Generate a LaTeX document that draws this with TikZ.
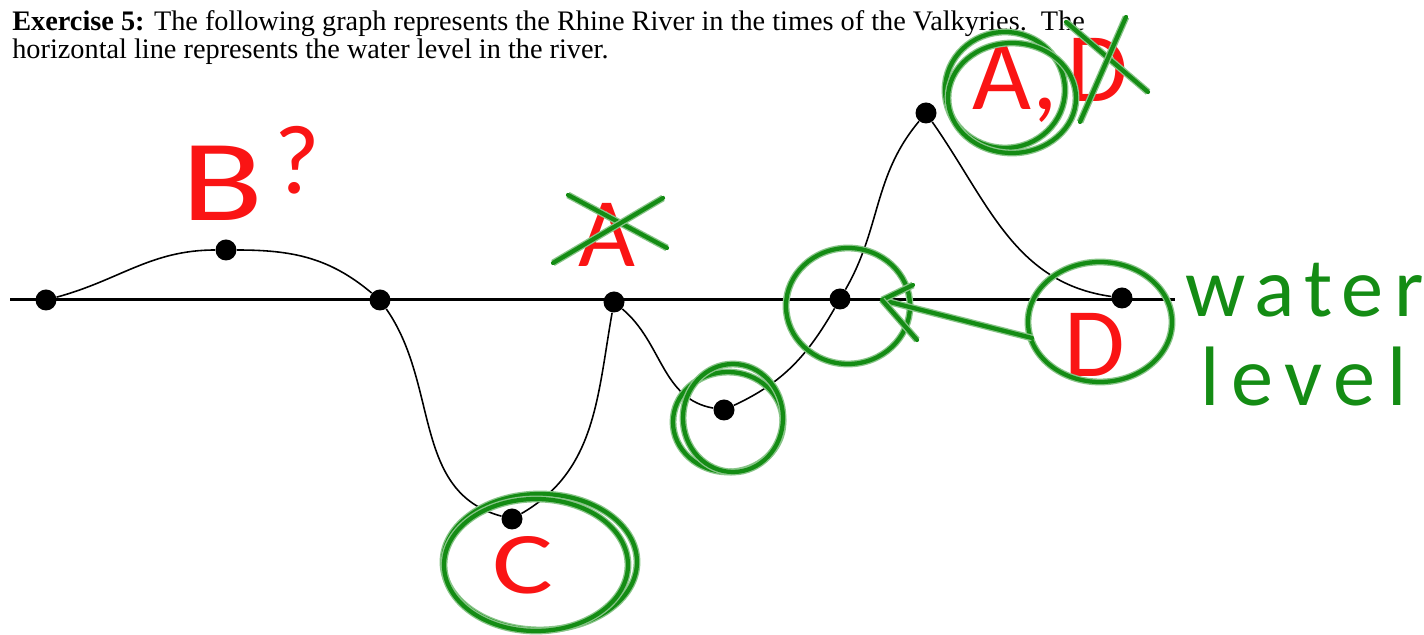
\documentclass[tikz,border=0pt]{standalone}
\usepackage{fontspec}
\setmainfont{Liberation Serif}
\newfontfamily\handfont{Carlito}
\usetikzlibrary{arrows.meta,positioning}
\definecolor{inkgreen}{RGB}{20,140,20}
\definecolor{inkred}{RGB}{250,20,20}
\newcommand{\hand}[1]{\fontsize{#1}{#1}\selectfont\handfont}

\begin{document}
\begin{tikzpicture}[
    x=0.02cm, y=0.02cm,
    dot/.style={circle, fill=black, inner sep=0pt, minimum width=0.4cm, minimum height=0.42cm},
    curve/.style={line width=0.9pt},
    level/.style={line width=1.7pt},
    printed/.style={anchor=base west, inner sep=0pt, font=\fontsize{16.1}{17}\selectfont},
    greenpen/.style={draw=inkgreen, line width=2.4pt, line cap=round, line join=round,
      preaction={draw=inkgreen!50, line width=3.9pt}},
    redletter/.style={text=inkred, inner sep=0pt}
  ]
    \useasboundingbox (0,0) rectangle (1424,635);
    \node[printed] (line1) at (12,604) {\textbf{Exercise 5:} The following graph represents the Rhine River in the times of the Valkyries.\ \ The};
    \node[printed] (line2) at (12,576) {horizontal line represents the water level in the river.};

    \coordinate (lvl-w) at (10,335);
    \coordinate (lvl-e) at (1175,335);
    \draw[level] (lvl-w) -- (lvl-e);

    \node[dot] (p1) at (46,335) {};
    \node[dot] (p2) at (226,385) {};
    \node[dot] (p3) at (380,335) {};
    \node[dot] (p4) at (512,116) {};
    \node[dot] (p5) at (614,333) {};
    \node[dot] (p6) at (724,225) {};
    \node[dot] (p7) at (840,336) {};
    \node[dot] (p8) at (926,522) {};
    \node[dot] (p9) at (1122,337) {};
    \draw[curve] (p1) to[out=15, in=180] (p2) to[out=0, in=140] (p3)
      to[out=-55, in=165] (p4) to[out=30, in=-100] (p5)
      to[out=-40, in=170] (p6) to[out=25, in=-120] (p7)
      to[out=60, in=-130] (p8) to[out=-55, in=172] (p9);

    \node[redletter, font=\hand{66}, xscale=1.3] (b) at (222,452) {B};
    \node[redletter, font=\hand{56}] (bq) at (297,475) {?};

    \node[redletter, font=\hand{56}] (a-old) at (607,400) {A};
    \draw[greenpen] (568,440) -- (667,387);
    \draw[greenpen] (553,372) -- (663,437);

    \node[redletter, font=\hand{58}] (a-new) at (1015,552) {A,};
    \node[redletter, font=\hand{56}] (d-old) at (1098,565) {D};
    \draw[greenpen] (1066,613) -- (1148,543);
    \draw[greenpen] (1126,618) -- (1080,513);
    \draw[greenpen] (1005,545) ellipse [x radius=60, y radius=58];
    \draw[greenpen] (1012,537) ellipse [x radius=64, y radius=55];

    \node[redletter, font=\hand{50}, xscale=1.3] (c) at (523,70) {C};
    \draw[greenpen] (540,73) ellipse [x radius=97, y radius=68];
    \draw[greenpen] (536,70) ellipse [x radius=92, y radius=66];

    \draw[greenpen] (728,213) ellipse [x radius=55, y radius=50];
    \draw[greenpen] (733,217) ellipse [x radius=50, y radius=54];
    \draw[greenpen] (848,329) ellipse [x radius=62, y radius=58];

    \node[redletter, font=\hand{56}] (d) at (1095,290) {D};
    \draw[greenpen] (1100,313) ellipse [x radius=72, y radius=60];
    \coordinate (arr-tail) at (1032,297);
    \coordinate (arr-tip) at (882,335);
    \draw[greenpen] (arr-tail) -- (arr-tip);
    \draw[greenpen] (arr-tip) -- (913,350);
    \draw[greenpen] (arr-tip) -- (917,295);

    \node[text=inkgreen, inner sep=0pt, anchor=west, font=\hand{48}\addfontfeature{LetterSpace=12}] (water) at (1185,345) {water};
    \node[text=inkgreen, inner sep=0pt, anchor=west, font=\hand{48}\addfontfeature{LetterSpace=14}] (lvl) at (1200,258) {level};
  \end{tikzpicture}
\end{document}
